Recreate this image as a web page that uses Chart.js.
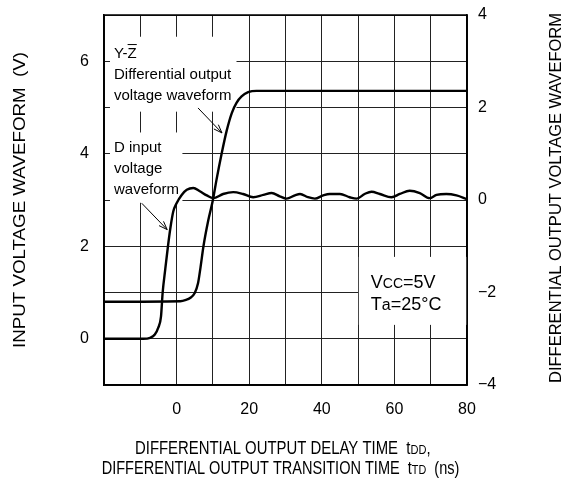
<!DOCTYPE html>
<html>
<head>
<meta charset="utf-8">
<script src="https://cdn.jsdelivr.net/npm/chart.js@4.4.0/dist/chart.umd.min.js"></script>
<style>
  html, body { margin: 0; padding: 0; background: #fff; }
</style>
</head>
<body>
<canvas id="chart" width="567" height="482"></canvas>
<script>
// D input voltage waveform (left axis, V)
const dInputNs = [-20, -9.2, -7.3, -6.0, -5.05, -4.3, -3.84, -3.13, -2.38, -1.7, -0.92, 0.0, 1.4, 2.8, 4.6,
  6.4, 8.3, 10.1, 12.8, 15.6, 18.3, 21.1, 23.9, 26.2, 28.4, 30.3, 32.6, 34.0, 36.2, 38.1, 40.4, 42.2,
  45.0, 47.7, 49.6, 51.8, 53.7, 56.0, 59.2, 61.5, 64.2, 67.0, 69.7, 71.6, 74.3, 77.1, 80];
const dInputV = [0, 0, 0.02, 0.09, 0.24, 0.48, 1.0, 1.5, 2.0, 2.4, 2.75, 2.93, 3.11, 3.22, 3.26,
  3.19, 3.10, 3.04, 3.13, 3.17, 3.13, 3.06, 3.11, 3.15, 3.08, 3.03, 3.10, 3.13, 3.06, 3.03, 3.10, 3.13,
  3.13, 3.06, 3.03, 3.13, 3.18, 3.13, 3.06, 3.13, 3.20, 3.15, 3.04, 3.11, 3.13, 3.10, 3.02];

// Y-Z differential output voltage waveform (right axis, V)
const diffNs = [-20, 1.0, 2.6, 3.7, 5.0, 5.9, 6.6, 7.4, 8.7, 10.0, 11.0, 12.4, 13.8, 15.2, 16.5, 17.9, 19.7, 22.0, 80];
const diffV = [-2.2, -2.19, -2.16, -2.12, -2.01, -1.8, -1.45, -1.0, -0.45, 0.0, 0.44, 1.0, 1.5, 1.88, 2.1, 2.24, 2.33, 2.36, 2.36];

const xTickLabels = [0, 20, 40, 60, 80];
const leftTickLabels = [0, 2, 4, 6];
const rightTickLabels = [-4, -2, 0, 2, 4];

const FONT = "'Liberation Sans', Arial, Helvetica, sans-serif";
Chart.defaults.font.family = FONT;
Chart.defaults.color = '#000';

const toPoints = (xs, ys) => xs.map((x, i) => ({ x, y: ys[i] }));

// text blocks, white boxes and arrows in data units (x: ns, y: left axis V)
const noteBoxes = [
  { x0: -18.35, x1: 16.5, y0: 4.91, y1: 6.53 },
  { x0: -18.35, x1: 1.6, y0: 2.94, y1: 4.46 },
  { x0: 50.2, x1: 80, y0: 0.30, y1: 1.77 }
];
const arrows = [
  { x0: 5.9, y0: 4.99, x1: 12.5, y1: 4.45 },
  { x0: -9.6, y0: 2.93, x1: -2.6, y1: 2.36 }
];

function drawArrow(ctx, x0, y0, x1, y1) {
  const a = Math.atan2(y1 - y0, x1 - x0);
  const len = 9, spread = 0.35;
  ctx.beginPath();
  ctx.moveTo(x0, y0);
  ctx.lineTo(x1, y1);
  ctx.moveTo(x1 - len * Math.cos(a - spread), y1 - len * Math.sin(a - spread));
  ctx.lineTo(x1, y1);
  ctx.lineTo(x1 - len * Math.cos(a + spread), y1 - len * Math.sin(a + spread));
  ctx.stroke();
}

// draw a run of text pieces of different sizes, squeezed by sx
function drawRun(ctx, x, y, pieces, sx) {
  ctx.save();
  ctx.translate(x, y);
  ctx.scale(sx, 1);
  let cx = 0;
  pieces.forEach(p => {
    ctx.font = `${p.size}px ${FONT}`;
    ctx.fillText(p.t, cx, 0);
    cx += ctx.measureText(p.t).width;
  });
  ctx.restore();
}

function fitScale(ctx, str, size, width) {
  ctx.font = `${size}px ${FONT}`;
  return width / ctx.measureText(str).width;
}

// keep the plot box fixed: no extra room for half-height end labels
const noEdgePad = s => { s.paddingTop = 0; s.paddingBottom = 0; s.paddingLeft = 0; s.paddingRight = 0; };

const overlay = {
  id: 'overlay',
  beforeDatasetsDraw(chart) {
    const { ctx, scales: { x, y } } = chart;
    ctx.save();
    ctx.fillStyle = '#fff';
    noteBoxes.forEach(b => {
      const px0 = x.getPixelForValue(b.x0), px1 = x.getPixelForValue(b.x1);
      const py0 = y.getPixelForValue(b.y1), py1 = y.getPixelForValue(b.y0);
      ctx.fillRect(px0, py0, px1 - px0, py1 - py0);
    });
    ctx.restore();
  },
  afterDatasetsDraw(chart) {
    const { ctx, chartArea: ca, scales: { x, y } } = chart;
    ctx.save();
    // frame
    ctx.strokeStyle = '#000';
    ctx.lineWidth = 1.5;
    ctx.strokeRect(ca.left, ca.top, ca.right - ca.left, ca.bottom - ca.top);

    // annotation text
    ctx.fillStyle = '#000';
    ctx.textAlign = 'left';
    ctx.textBaseline = 'alphabetic';
    const tx = x.getPixelForValue(-17.25);
    ctx.font = `15px ${FONT}`;
    const yzBase = y.getPixelForValue(6.08);
    ctx.fillText('Y-Z', tx, yzBase);
    const wYdash = ctx.measureText('Y-').width;
    const wZ = ctx.measureText('Z').width;
    ctx.lineWidth = 1;
    ctx.beginPath();
    ctx.moveTo(tx + wYdash, yzBase - 13);
    ctx.lineTo(tx + wYdash + wZ, yzBase - 13);
    ctx.stroke();
    ctx.fillText('Differential output', tx, y.getPixelForValue(5.62));
    ctx.fillText('voltage waveform', tx, y.getPixelForValue(5.17));
    ctx.fillText('D input', tx, y.getPixelForValue(4.04));
    ctx.fillText('voltage', tx, y.getPixelForValue(3.59));
    ctx.fillText('waveform', tx, y.getPixelForValue(3.13));

    const vx = x.getPixelForValue(53.5);
    drawRun(ctx, vx, y.getPixelForValue(1.10), [
      { t: 'V', size: 18 }, { t: 'CC', size: 14 }, { t: '=5V', size: 18 }
    ], 1);
    drawRun(ctx, vx, y.getPixelForValue(0.63), [
      { t: 'T', size: 18 }, { t: 'a', size: 16 }, { t: '=25\u00B0C', size: 18 }
    ], 1);

    // arrows
    ctx.lineWidth = 1;
    arrows.forEach(a => drawArrow(ctx,
      x.getPixelForValue(a.x0), y.getPixelForValue(a.y0),
      x.getPixelForValue(a.x1), y.getPixelForValue(a.y1)));
    ctx.restore();
  },
  afterDraw(chart) {
    const { ctx } = chart;
    ctx.save();
    ctx.fillStyle = '#000';
    ctx.textBaseline = 'alphabetic';
    ctx.textAlign = 'left';

    // x axis title, two lines, condensed
    const l1 = 'DIFFERENTIAL OUTPUT DELAY TIME';
    const s1 = fitScale(ctx, l1, 17.5, 263);
    drawRun(ctx, 135, 454, [
      { t: l1 + '  t', size: 17.5 }, { t: 'DD', size: 13 }, { t: ',', size: 17.5 }
    ], s1);
    const l2 = 'DIFFERENTIAL OUTPUT TRANSITION TIME';
    const s2 = fitScale(ctx, l2, 17.5, 298);
    drawRun(ctx, 101.7, 474, [
      { t: l2 + '  t', size: 17.5 }, { t: 'TD', size: 13 }, { t: '  (ns)', size: 17.5 }
    ], s2);

    // rotated y titles
    ctx.textBaseline = 'middle';
    ctx.textAlign = 'center';
    const lt = 'INPUT VOLTAGE WAVEFORM  (V)';
    const ls = fitScale(ctx, lt, 17, 296);
    ctx.save();
    ctx.translate(20, 200);
    ctx.rotate(-Math.PI / 2);
    ctx.scale(ls, 1);
    ctx.font = `17px ${FONT}`;
    ctx.fillText(lt, 0, 0);
    ctx.restore();

    const rt = 'DIFFERENTIAL OUTPUT VOLTAGE WAVEFORM';
    const rs = fitScale(ctx, rt, 16, 370);
    ctx.save();
    ctx.translate(557, 198);
    ctx.rotate(-Math.PI / 2);
    ctx.scale(rs, 1);
    ctx.font = `16px ${FONT}`;
    ctx.fillText(rt, 0, 0);
    ctx.restore();
    ctx.restore();
  }
};

const gridColor = '#222';

new Chart(document.getElementById('chart'), {
  type: 'line',
  data: {
    datasets: [
      {
        label: 'D input',
        data: toPoints(dInputNs, dInputV),
        yAxisID: 'y',
        borderColor: '#000',
        borderWidth: 2.4,
        pointRadius: 0,
        cubicInterpolationMode: 'monotone',
        fill: false
      },
      {
        label: 'Y-Z',
        data: toPoints(diffNs, diffV),
        yAxisID: 'y2',
        borderColor: '#000',
        borderWidth: 2.4,
        pointRadius: 0,
        cubicInterpolationMode: 'monotone',
        fill: false
      }
    ]
  },
  options: {
    responsive: false,
    devicePixelRatio: 1,
    animation: false,
    layout: { padding: { top: 15, left: 0, right: 0, bottom: 0 } },
    plugins: {
      legend: { display: false },
      tooltip: { enabled: false }
    },
    scales: {
      x: {
        type: 'linear',
        min: -20,
        max: 80,
        afterFit: s => { noEdgePad(s); s.height = 97; },
        ticks: {
          stepSize: 10,
          autoSkip: false,
          maxRotation: 0,
          padding: 15,
          font: { size: 16 },
          callback: v => xTickLabels.includes(v) ? String(v) : ''
        },
        grid: { color: gridColor, lineWidth: 1, drawTicks: false },
        border: { color: '#000', width: 1.5 }
      },
      y: {
        position: 'left',
        min: -1,
        max: 7,
        afterFit: s => { noEdgePad(s); s.width = 104; },
        ticks: {
          stepSize: 1,
          autoSkip: false,
          padding: 15,
          font: { size: 16 },
          callback: v => leftTickLabels.includes(v) ? String(v) : ''
        },
        grid: { color: gridColor, lineWidth: 1, drawTicks: false },
        border: { color: '#000', width: 1.5 }
      },
      y2: {
        position: 'right',
        min: -4,
        max: 4,
        afterFit: s => { noEdgePad(s); s.width = 100; },
        ticks: {
          stepSize: 2,
          autoSkip: false,
          padding: 11,
          font: { size: 16 },
          callback: v => rightTickLabels.includes(v) ? (v < 0 ? '\u2212' + Math.abs(v) : String(v)) : ''
        },
        grid: { display: false, drawTicks: false },
        border: { color: '#000', width: 1.5 }
      }
    }
  },
  plugins: [overlay]
});
</script>
</body>
</html>
